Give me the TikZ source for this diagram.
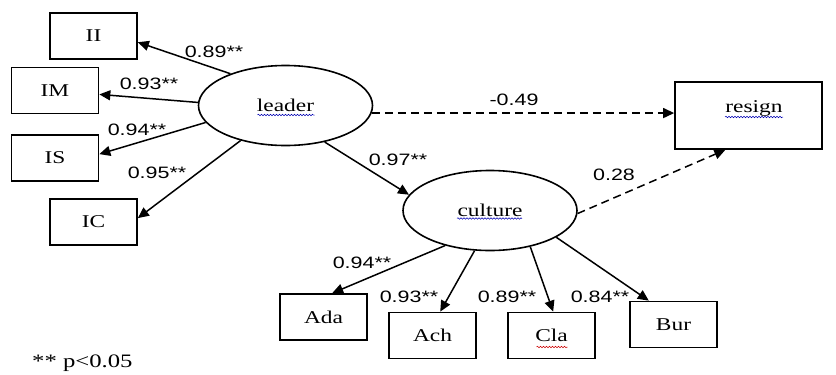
\documentclass[tikz,border=0pt]{standalone}
\usepackage{fontspec}
\setmainfont{Liberation Serif}
\newfontfamily\arialfont{Liberation Sans}
\usetikzlibrary{shapes.geometric,arrows.meta,decorations.pathmorphing}
\newcommand{\stretchtxt}[1]{\scalebox{1.3}[1]{#1}}
\begin{document}
\begin{tikzpicture}[x=1pt,y=-1pt,
 box/.style={draw, line width=1.7pt, minimum width=87pt, minimum height=46pt, inner sep=0pt, font=\fontsize{18}{20}\selectfont},
 latent/.style={draw, ellipse, line width=1.6pt, minimum width=174pt, minimum height=80pt, inner sep=0pt, font=\fontsize{18}{20}\selectfont},
 txt/.style={inner sep=0pt, font=\fontsize{18}{20}\selectfont},
 arr/.style={line width=1.5pt, -{Triangle[length=11pt,width=10pt]}},
 darr/.style={arr, dash pattern=on 8pt off 5pt},
 coef/.style={inner sep=0pt, font=\arialfont\fontsize{16.5}{18}\selectfont},
 wavy/.style={decorate, decoration={snake, amplitude=0.8pt, segment length=3pt}, line width=0.5pt}]
\useasboundingbox (0,0) rectangle (836,375);
% observed variables
\node[box] (II) at (93.5,36) {\stretchtxt{II}};
\node[box] (IM) at (55,90.5) {\stretchtxt{IM}};
\node[box] (IS) at (55,158) {\stretchtxt{IS}};
\node[box] (IC) at (93.5,222) {\stretchtxt{IC}};
\node[latent] (leader) at (285.5,105.5) {\stretchtxt{leader}};
\node[latent] (culture) at (490,210.5) {\stretchtxt{culture}};
\node[box, minimum width=147pt, minimum height=67pt] (resign) at (748.5,115.5) {};
\node[txt] (resigntext) at (754,108) {\stretchtxt{resign}};
\node[box] (Ada) at (323.5,317) {\stretchtxt{Ada}};
\node[box] (Ach) at (432.5,335.5) {\stretchtxt{Ach}};
\node[box] (Cla) at (551.5,335.5) {\stretchtxt{Cla}};
\node[box] (Bur) at (673.5,324.5) {\stretchtxt{Bur}};
% paths
\draw[arr] (leader.150) -- (II.-8);
\draw[arr] (leader.178) -- (IM.-5);
\draw[arr] (leader.-168) -- (IS.5);
\draw[arr] (leader.-142) -- (IC.5);
\draw[darr] (leader.-5) -- (leader.-5 -| resign.west);
\draw[arr] (leader.-43.5) -- (culture.169);
\draw[darr] (culture.-2) -- (resign.-124);
\draw[arr] (culture.-142.5) -- (Ada.70);
\draw[arr] (culture.-111) -- (Ach.72);
\draw[arr] (culture.-42) -- (Cla.86);
\draw[arr] (culture.-22) -- (Bur.136);
% coefficients
\node[coef] (c1) at (214,52) {\stretchtxt{0.89**}};
\node[coef] (c2) at (149,84) {\stretchtxt{0.93**}};
\node[coef] (c3) at (137,130) {\stretchtxt{0.94**}};
\node[coef] (c4) at (157,173) {\stretchtxt{0.95**}};
\node[coef] (c5) at (514,100) {\stretchtxt{-0.49}};
\node[coef] (c6) at (398,160) {\stretchtxt{0.97**}};
\node[coef] (c7) at (614,175) {\stretchtxt{0.28}};
\node[coef] (c8) at (362,263) {\stretchtxt{0.94**}};
\node[coef] (c9) at (409,297) {\stretchtxt{0.93**}};
\node[coef] (c10) at (507,297) {\stretchtxt{0.89**}};
\node[coef] (c11) at (600,297) {\stretchtxt{0.84**}};
% note
\node[inner sep=0pt, anchor=west, font=\fontsize{19}{21}\selectfont] (note) at (32,363) {\stretchtxt{** p<0.05}};
% spell-check underlines
\draw[wavy, blue!70!black] ([xshift=-28pt,yshift=-9.5pt]leader.center) -- ++(57,0);
\draw[wavy, blue!70!black] ([xshift=-33pt,yshift=-8pt]culture.center) -- ++(65,0);
\draw[wavy, blue!70!black] ([xshift=-29pt,yshift=-9pt]resigntext.center) -- ++(58,0);
\draw[wavy, red!80!black] ([xshift=-15pt,yshift=-11.5pt]Cla.center) -- ++(31,0);
\end{tikzpicture}
\end{document}
